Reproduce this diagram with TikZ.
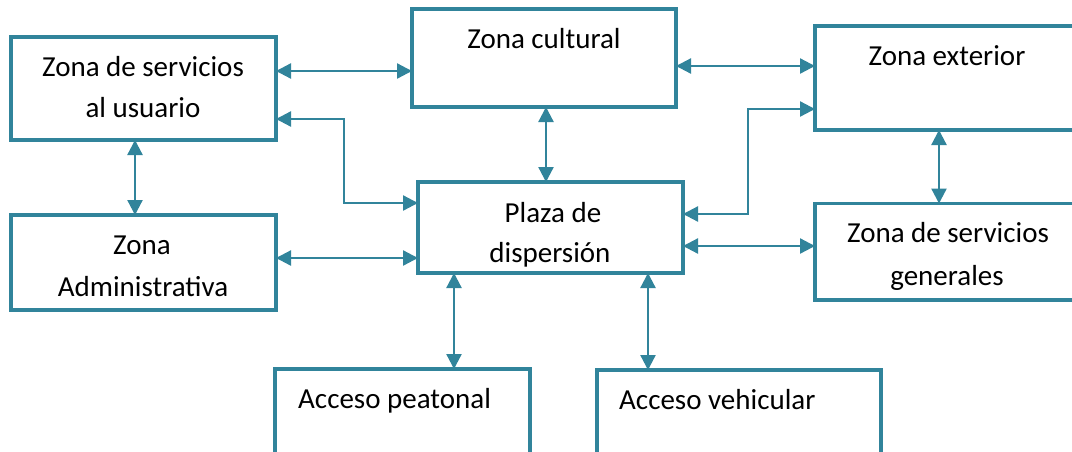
\documentclass[tikz,border=0pt]{standalone}
\usepackage{fontspec}
\setmainfont{Carlito}
\usetikzlibrary{arrows.meta}
\definecolor{teal1}{RGB}{49,132,155}
\begin{document}
\begin{tikzpicture}[x=1pt,y=-1pt,
  zbox/.style={draw=teal1,line width=3.4pt,rectangle,inner sep=0pt,outer sep=0pt},
  ztext/.style={inner sep=0pt,anchor=base,font=\fontsize{29}{36}\selectfont},
  arr/.style={draw=teal1,line width=2.3pt,{Triangle[length=15pt,width=15pt]}-{Triangle[length=15pt,width=15pt]}}]
\useasboundingbox (0,0) rectangle (1072,451);
\clip (0,0) rectangle (1072,451);
\fill[white] (0,0) rectangle (1072,451);
% boxes
\node[zbox,minimum width=265pt,minimum height=103pt] (usuario) at (143.5,88.5) {};
\node[zbox,minimum width=264pt,minimum height=98pt] (cultural) at (544,58) {};
\node[zbox,minimum width=275pt,minimum height=104pt] (exterior) at (952.5,78) {};
\node[zbox,minimum width=265pt,minimum height=91pt] (plaza) at (550.5,227.5) {};
\node[zbox,minimum width=275pt,minimum height=96.5pt] (generales) at (952.5,251.75) {};
\node[zbox,minimum width=265pt,minimum height=95pt] (admin) at (143.5,262.5) {};
\node[zbox,minimum width=255pt,minimum height=101pt] (peatonal) at (402.5,419.5) {};
\node[zbox,minimum width=284pt,minimum height=100pt] (vehicular) at (739,420) {};
% texts
\node[ztext] (tu1) at (143,76) {Zona de servicios};
\node[ztext] (tu2) at (143,117) {al usuario};
\node[ztext] (tc) at (544,48) {Zona cultural};
\node[ztext] (te) at (947,65) {Zona exterior};
\node[ztext] (tp1) at (553,222) {Plaza de};
\node[ztext] (tp2) at (550,262) {dispersión};
\node[ztext] (tg1) at (948,242) {Zona de servicios};
\node[ztext] (tg2) at (947,285) {generales};
\node[ztext] (ta1) at (142,254) {Zona};
\node[ztext] (ta2) at (143,296) {Administrativa};
\node[ztext,anchor=base west] (tpe) at (298,408) {Acceso peatonal};
\node[ztext,anchor=base west] (tve) at (619,409) {Acceso vehicular};
% connectors
\draw[arr] (usuario.east |- 0,71) -- (cultural.west |- 0,71);
\draw[arr] (usuario.east |- 0,119) -| (344,203) -- (plaza.west |- 0,203);
\draw[arr] (cultural.east |- 0,66) -- (exterior.west |- 0,66);
\draw[arr] (plaza.east |- 0,214) -| (748,109) -- (exterior.west |- 0,109);
\draw[arr] (plaza.east |- 0,246) -- (generales.west |- 0,246);
\draw[arr] (cultural.south -| 546,0) -- (plaza.north -| 546,0);
\draw[arr] (usuario.south -| 135,0) -- (admin.north -| 135,0);
\draw[arr] (exterior.south -| 939,0) -- (generales.north -| 939,0);
\draw[arr] (admin.east |- 0,258) -- (plaza.west |- 0,258);
\draw[arr] (plaza.south -| 454,0) -- (peatonal.north -| 454,0);
\draw[arr] (plaza.south -| 648,0) -- (vehicular.north -| 648,0);
\end{tikzpicture}
\end{document}
